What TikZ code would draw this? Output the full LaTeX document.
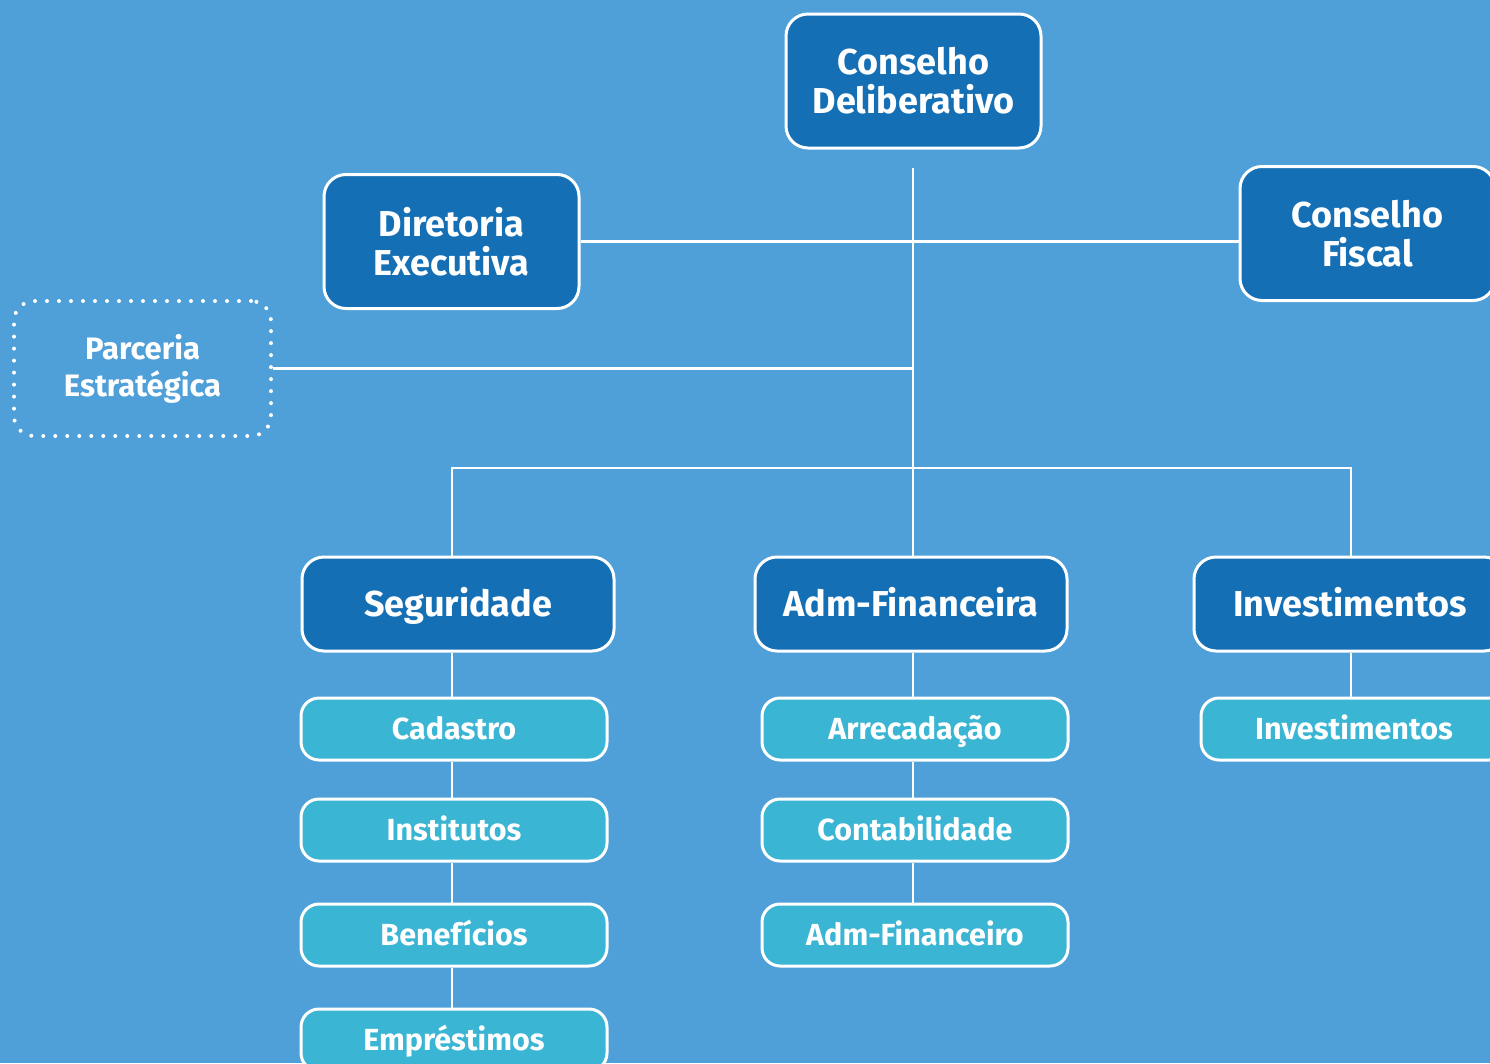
\documentclass[tikz,border=0pt]{standalone}
\usepackage{fontspec}
\setmainfont{Fira Sans}
\definecolor{bg}{HTML}{4FA0D8}
\definecolor{deep}{HTML}{146FB5}
\definecolor{aqua}{HTML}{3BB5D4}
\begin{document}
\begin{tikzpicture}[x=1pt,y=-1pt,
  box/.style={draw=white, line width=3pt, text=white, align=center, inner sep=0pt},
  head/.style={box, fill=deep, rounded corners=22pt, minimum width=255pt, minimum height=134pt,
    font=\bfseries\fontsize{36}{39}\selectfont},
  unit/.style={box, fill=deep, rounded corners=22pt, minimum width=312pt, minimum height=94pt,
    text height=33pt, text depth=8pt, font=\bfseries\fontsize{36}{39}\selectfont},
  sub/.style={box, fill=aqua, rounded corners=18pt, minimum width=306pt, minimum height=62pt,
    text height=28pt, text depth=7pt, font=\bfseries\fontsize{30.5}{32}\selectfont},
  partner/.style={box, rounded corners=20pt, minimum width=257pt, minimum height=135pt,
    line width=4pt, line cap=round, dash pattern=on 0pt off 12pt,
    font=\bfseries\fontsize{31}{37}\selectfont},
  link/.style={draw=white, line width=2.5pt}]

% page and background
\clip (0,0) rectangle (1490,1063);
\fill[bg] (0,0) rectangle (1490,1063);

% governance
\node[head] (delib) at (913.5,81) {Conselho\\Deliberativo};
\node[head] (dir) at (451.5,241.5) {Diretoria\\Executiva};
\node[head] (fiscal) at (1367.5,233.5) {Conselho\\Fiscal};
\node[partner] (parc) at (142.5,368.5) {Parceria\\Estratégica};

% departments
\node[unit] (seg) at (458,604) {Seguridade};
\node[unit] (adm) at (911,604) {Adm-Financeira};
\node[unit] (inv) at (1350,604) {Investimentos};

% areas
\node[sub] (cad) at (454,729) {Cadastro};
\node[sub] (inst) at (454,830) {Institutos};
\node[sub] (ben) at (454,935) {Benefícios};
\node[sub] (emp) at (454,1040) {Empréstimos};
\node[sub] (arr) at (915,729) {Arrecadação};
\node[sub] (cont) at (915,830) {Contabilidade};
\node[sub] (admf) at (915,935) {Adm-Financeiro};
\node[sub] (invs) at (1354,729) {Investimentos};

% connectors
\coordinate (trunk) at (913,168);
\coordinate (colA) at (452,468);
\coordinate (colB) at (913,468);
\coordinate (colC) at (1351,468);
\draw[link] (trunk) -- (trunk |- adm.north);
\draw[link] (dir.east) -- (dir.east -| fiscal.west);
\draw[link] (parc.east) -- (parc.east -| trunk);
\draw[link] (colA |- seg.north) -- (colA) -- (colC) -- (colC |- inv.north);
\draw[link] (colA |- seg.south) -- (colA |- cad.north);
\draw[link] (colA |- cad.south) -- (colA |- inst.north);
\draw[link] (colA |- inst.south) -- (colA |- ben.north);
\draw[link] (colA |- ben.south) -- (colA |- emp.north);
\draw[link] (colB |- adm.south) -- (colB |- arr.north);
\draw[link] (colB |- arr.south) -- (colB |- cont.north);
\draw[link] (colB |- cont.south) -- (colB |- admf.north);
\draw[link] (colC |- inv.south) -- (colC |- invs.north);
\end{tikzpicture}
\end{document}
